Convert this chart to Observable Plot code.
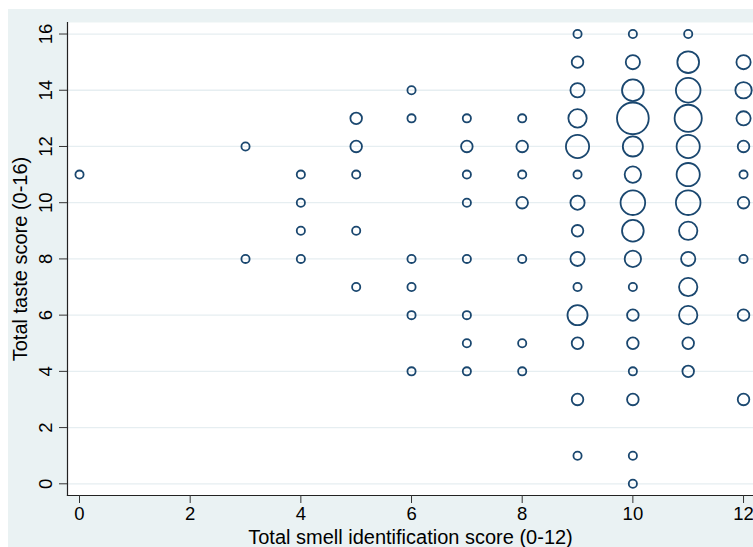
<!DOCTYPE html>
<html><head><meta charset="utf-8">
<script src="https://cdn.jsdelivr.net/npm/d3@7"></script>
<script src="https://cdn.jsdelivr.net/npm/@observablehq/plot@0.6"></script>
<style>
html,body{margin:0;padding:0;background:#fff;overflow:hidden;}
#frame{position:absolute;left:8px;top:9px;width:745px;height:538px;background:#EAF2F3;}
</style></head><body><div id="frame"></div>
<script>
// smell score, taste score, number of participants at that point
const smell = [0, 3,3, 4,4,4,4, 5,5,5,5,5, 6,6,6,6,6,6, 7,7,7,7,7,7,7,7, 8,8,8,8,8,8,8,
  9,9,9,9,9,9,9,9,9,9,9,9,9,9,
  10,10,10,10,10,10,10,10,10,10,10,10,10,10,10,10,
  11,11,11,11,11,11,11,11,11,11,11,11,11,
  12,12,12,12,12,12,12,12,12];
const taste = [11, 12,8, 11,10,9,8, 13,12,11,9,7, 14,13,8,7,6,4, 13,12,11,10,8,6,5,4, 13,12,11,10,8,5,4,
  16,15,14,13,12,11,10,9,8,7,6,5,3,1,
  16,15,14,13,12,11,10,9,8,7,6,5,4,3,1,0,
  16,15,14,13,12,11,10,9,8,7,6,5,4,
  15,14,13,12,11,10,8,6,3];
const count = [1, 1,1, 1,1,1,1, 2,2,1,1,1, 1,1,1,1,1,1, 1,2,1,1,1,1,1,1, 1,2,1,2,1,1,1,
  1,2,3,5,8,1,3,2,3,1,6,2,2,1,
  1,3,7,15,6,4,9,7,4,1,2,2,1,2,1,1,
  1,7,9,11,8,8,9,5,3,5,5,2,2,
  3,4,3,2,1,2,1,2,2];
const xTicks = [0, 2, 4, 6, 8, 10, 12];
const yTicks = [0, 2, 4, 6, 8, 10, 12, 14, 16];
const xTitle = "Total smell identification score (0-12)";
const yTitle = "Total taste score (0-16)";

const data = smell.map((s, i) => ({smell: s, taste: taste[i], n: count[i]}));

const chart = Plot.plot({
  width: 745, height: 538,
  marginLeft: 59, marginTop: 13, marginBottom: 52, marginRight: 0,
  style: {background: "transparent", fontFamily: "'Liberation Sans', Arial, sans-serif", fontSize: "18.5px", color: "#000"},
  x: {domain: [-0.217, 12.18]},
  y: {domain: [-0.416, 16.41]},
  r: {type: "sqrt", domain: [0, 15], range: [0, 15.88]},
  marks: [
    Plot.frame({fill: "#fff", stroke: null}),
    Plot.ruleY(yTicks, {stroke: "#E6EEF1", strokeWidth: 1.3}),
    Plot.frame({anchor: "left", stroke: "#222", strokeWidth: 1.2}),
    Plot.frame({anchor: "bottom", stroke: "#222", strokeWidth: 1.2}),
    Plot.axisX({ticks: xTicks, tickSize: 8, tickPadding: 3, label: null, stroke: "#333"}),
    Plot.axisY({ticks: yTicks, tickSize: 8, tickPadding: 8, tickRotate: -90, label: null, stroke: "#333"}),
    Plot.dot(data, {x: "smell", y: "taste", r: "n", stroke: "#1A476F", strokeWidth: 1.8, fill: "none"}),
    Plot.text([xTitle], {frameAnchor: "bottom", dy: 42, fontSize: 20, lineAnchor: "middle", textAnchor: "middle"}),
    Plot.text([yTitle], {frameAnchor: "left", dx: -47, rotate: -90, fontSize: 20, lineAnchor: "middle", textAnchor: "middle"})
  ]
});
document.getElementById("frame").appendChild(chart);
</script></body></html>
